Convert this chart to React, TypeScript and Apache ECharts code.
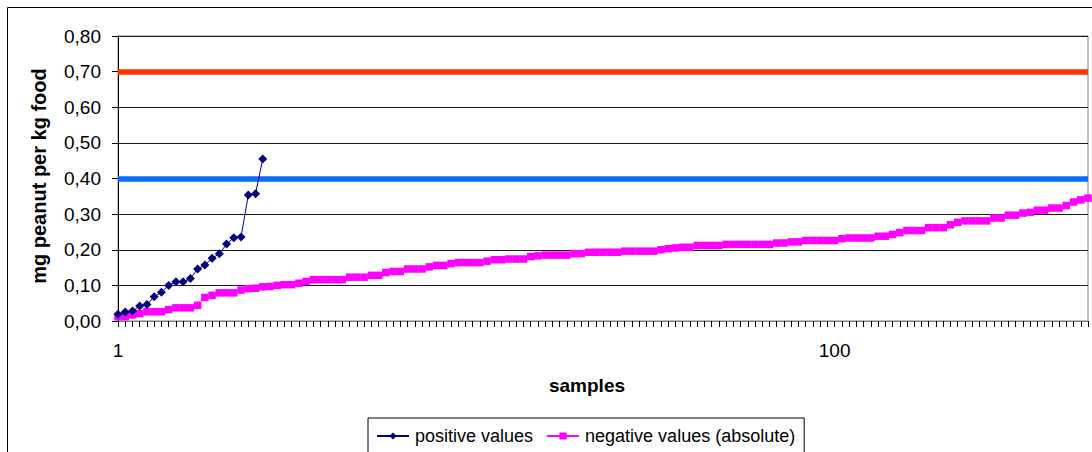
import React, { useEffect, useRef } from "react";
import * as echarts from "echarts";

const POSITIVE_VALUES = [
  0.019, 0.025, 0.028, 0.042, 0.046, 0.068, 0.081, 0.1, 0.11, 0.11, 0.119,
  0.146, 0.157, 0.176, 0.189, 0.216, 0.234, 0.236, 0.354, 0.357, 0.455,
];

const NEGATIVE_VALUES = [
  0.012, 0.012, 0.017, 0.021, 0.026, 0.026, 0.026, 0.032, 0.037, 0.037,
  0.037, 0.044, 0.066, 0.072, 0.079, 0.079, 0.079, 0.087, 0.091, 0.092,
  0.096, 0.097, 0.1, 0.102, 0.102, 0.106, 0.111, 0.116, 0.116, 0.116,
  0.116, 0.116, 0.123, 0.123, 0.123, 0.128, 0.128, 0.136, 0.139, 0.139,
  0.146, 0.146, 0.146, 0.152, 0.156, 0.156, 0.161, 0.164, 0.164, 0.164,
  0.164, 0.168, 0.172, 0.172, 0.174, 0.174, 0.174, 0.181, 0.183, 0.185,
  0.185, 0.185, 0.185, 0.189, 0.189, 0.193, 0.193, 0.193, 0.193, 0.193,
  0.196, 0.196, 0.196, 0.196, 0.196, 0.2, 0.203, 0.205, 0.207, 0.207,
  0.212, 0.212, 0.212, 0.212, 0.215, 0.215, 0.215, 0.215, 0.215, 0.215,
  0.215, 0.219, 0.219, 0.222, 0.222, 0.226, 0.226, 0.226, 0.226, 0.226,
  0.231, 0.233, 0.233, 0.233, 0.233, 0.238, 0.238, 0.243, 0.248, 0.254,
  0.254, 0.254, 0.262, 0.262, 0.262, 0.27, 0.277, 0.281, 0.281, 0.281,
  0.281, 0.289, 0.289, 0.297, 0.297, 0.303, 0.305, 0.311, 0.311, 0.317,
  0.317, 0.324, 0.334, 0.34, 0.345,
];

const SAMPLES = NEGATIVE_VALUES.map((_, i) => String(i + 1));
const SHOWN_X_LABELS = ["1", "100"];
const LIMIT_HIGH = 0.7;
const LIMIT_LOW = 0.4;
const Y_MIN = 0;
const Y_MAX = 0.8;
const Y_STEP = 0.1;

const FONT = "Arial, 'Liberation Sans', sans-serif";

export default function App() {
  const ref = useRef<HTMLDivElement>(null);

  useEffect(() => {
    if (!ref.current) return;
    const chart = echarts.init(ref.current, undefined, { renderer: "svg" });
    chart.setOption({
      animation: false,
      backgroundColor: "#ffffff",
      textStyle: { fontFamily: FONT },
      grid: {
        left: 118,
        top: 36,
        right: 4,
        bottom: 131,
        show: true,
        borderColor: "#808080",
        borderWidth: 1,
        containLabel: false,
      },
      legend: {
        data: ["positive values", "negative values (absolute)"],
        left: 368,
        top: 418,
        padding: [9, 9, 9, 8],
        itemGap: 13,
        itemWidth: 32,
        itemHeight: 9,
        borderColor: "#000000",
        borderWidth: 1,
        borderRadius: 0,
        textStyle: { fontFamily: FONT, fontSize: 18, color: "#000000", padding: [0, 0, 0, 1] },
      },
      xAxis: {
        type: "category",
        data: SAMPLES,
        boundaryGap: false,
        axisLine: { lineStyle: { color: "#808080", width: 1 } },
        axisTick: {
          show: true,
          interval: 0,
          length: 6,
          lineStyle: { color: "#000000", width: 1 },
        },
        axisLabel: {
          interval: (_i: number, v: string) => SHOWN_X_LABELS.includes(v),
          margin: 20,
          fontFamily: FONT,
          fontSize: 19,
          color: "#000000",
        },
        splitLine: { show: false },
      },
      yAxis: {
        type: "value",
        min: Y_MIN,
        max: Y_MAX,
        interval: Y_STEP,
        axisLine: { show: true, lineStyle: { color: "#000000", width: 1 } },
        axisTick: { show: true, length: 6, lineStyle: { color: "#000000" } },
        axisLabel: {
          margin: 17,
          fontFamily: FONT,
          fontSize: 19,
          color: "#000000",
          formatter: (v: number) => v.toFixed(2).replace(".", ","),
        },
        splitLine: { show: true, lineStyle: { color: "#1a1a1a", width: 1 } },
      },
      graphic: [
        {
          type: "rect",
          shape: { x: 7.5, y: 7.5, width: 1300, height: 600 },
          style: { fill: "none", stroke: "#000000", lineWidth: 1 },
          silent: true,
          z: 0,
        },
        {
          type: "text",
          x: 39,
          y: 176,
          rotation: Math.PI / 2,
          style: {
            text: "mg peanut per kg food",
            fontFamily: FONT,
            fontSize: 20,
            fontWeight: "bold",
            fill: "#000000",
            align: "center",
            verticalAlign: "middle",
          },
        },
        {
          type: "text",
          x: 587,
          y: 385,
          style: {
            text: "samples",
            fontFamily: FONT,
            fontSize: 19,
            fontWeight: "bold",
            fill: "#000000",
            align: "center",
            verticalAlign: "middle",
          },
        },
      ],
      series: [
        {
          name: "negative values (absolute)",
          type: "line",
          data: NEGATIVE_VALUES,
          symbol: "rect",
          symbolSize: 7.5,
          showAllSymbol: true,
          itemStyle: { color: "#ff00ff" },
          lineStyle: { color: "#ff00ff", width: 1 },
          z: 3,
          markLine: {
            silent: true,
            symbol: ["none", "none"],
            label: { show: false },
            data: [
              { yAxis: LIMIT_HIGH, lineStyle: { color: "#ff3300", width: 5.5, type: "solid" } },
              { yAxis: LIMIT_LOW, lineStyle: { color: "#0a6cff", width: 5.5, type: "solid" } },
            ],
            z: 2,
          },
        },
        {
          name: "positive values",
          type: "line",
          data: POSITIVE_VALUES,
          symbol: "diamond",
          symbolSize: 9,
          showAllSymbol: true,
          itemStyle: { color: "#000080" },
          lineStyle: { color: "#000080", width: 1 },
          z: 4,
        },
      ],
    });
    return () => chart.dispose();
  }, []);

  return (
    <div
      ref={ref}
      style={{ position: "absolute", left: 0, top: 0, width: 1092, height: 452 }}
    />
  );
}
